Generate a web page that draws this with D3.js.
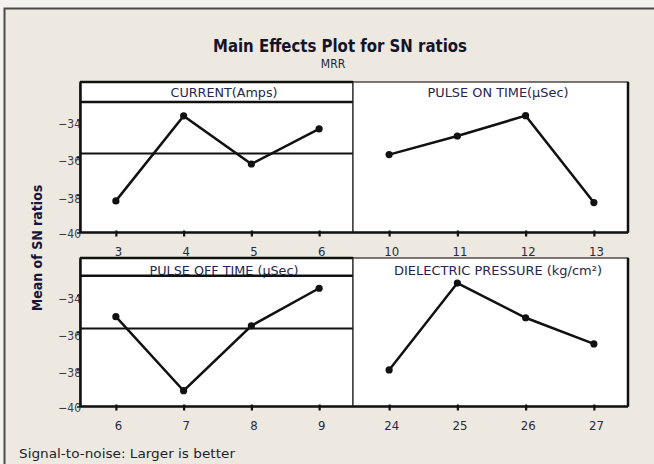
<!DOCTYPE html>
<html>
<head>
  <meta charset="utf-8">
  <script src="https://d3js.org/d3.v7.min.js"></script>
  <style>
    body { margin: 0; background: #f4f2ee; }
    text { font-family: 'DejaVu Sans Condensed', 'DejaVu Sans', sans-serif; }
  </style>
</head>
<body>
<script type="text/javascript">
  // SN ratio means per factor level
  var currentLevels = ["3", "4", "5", "6"];
  var currentSN = [-38.32, -33.80, -36.36, -34.49];

  var pulseOnLevels = ["10", "11", "12", "13"];
  var pulseOnSN = [-35.86, -34.87, -33.79, -38.41];

  var pulseOffLevels = ["6", "7", "8", "9"];
  var pulseOffSN = [-35.16, -39.15, -35.65, -33.63];

  var pressureLevels = ["24", "25", "26", "27"];
  var pressureSN = [-38.03, -33.35, -35.22, -36.63];

  var yTicks = [-40, -38, -36, -34];
  var yDomain = [-40, -32];

  var panels = [
    {name: "CURRENT(Amps)", levels: currentLevels, values: currentSN, col: 0, row: 0, tl: 107},
    {name: "PULSE ON TIME(\u00b5Sec)", levels: pulseOnLevels, values: pulseOnSN, col: 1, row: 0, tl: 141},
    {name: "PULSE OFF TIME (\u00b5Sec)", levels: pulseOffLevels, values: pulseOffSN, col: 0, row: 1, tl: 149},
    {name: "DIELECTRIC PRESSURE (kg/cm\u00b2)", levels: pressureLevels, values: pressureSN, col: 1, row: 1, tl: 208}
  ];

  var grandMean = d3.mean(currentSN.concat(pulseOnSN, pulseOffSN, pressureSN));

  /*
    layout
  */
  var colX = [80, 353, 628];
  var rows = [
    {top: 82, bottom: 232.5, strip: 20, labelY: 97},
    {top: 258, bottom: 406.5, strip: 17.7, labelY: 275}
  ];

  var svg = d3.select("body")
    .append("svg")
      .attr("width", 654)
      .attr("height", 464);

  // background + outer frame
  svg.append("rect")
    .attr("x", 5).attr("y", 9)
    .attr("width", 649).attr("height", 455)
    .attr("fill", "#ede9e1");
  svg.append("path")
    .attr("d", "M4.5,464V8.5H654")
    .attr("fill", "none")
    .attr("stroke", "#4a4a4a")
    .attr("stroke-width", 2);

  svg.append("text")
    .attr("x", 340).attr("y", 52)
    .attr("text-anchor", "middle")
    .attr("font-size", 18)
    .attr("font-weight", "bold")
    .attr("fill", "#14142a")
    .attr("textLength", 254)
    .attr("lengthAdjust", "spacingAndGlyphs")
    .text("Main Effects Plot for SN ratios");

  svg.append("text")
    .attr("x", 333).attr("y", 68)
    .attr("text-anchor", "middle")
    .attr("font-size", 12)
    .attr("fill", "#1e1e3a")
    .text("MRR");

  svg.append("text")
    .attr("transform", "translate(42,248) rotate(-90)")
    .attr("text-anchor", "middle")
    .attr("font-size", 14)
    .attr("font-weight", "bold")
    .attr("fill", "#16163a")
    .text("Mean of SN ratios");

  svg.append("text")
    .attr("x", 19).attr("y", 458)
    .attr("font-size", 13)
    .attr("fill", "#1e1e2e")
    .attr("textLength", 216)
    .attr("lengthAdjust", "spacingAndGlyphs")
    .text("Signal-to-noise: Larger is better");

  panels.forEach(function(p) {
    var x0 = colX[p.col], x1 = colX[p.col + 1];
    var r = rows[p.row];

    var x = d3.scalePoint()
      .domain(p.levels)
      .range([x0 + 2, x1])
      .padding(0.5);
    var y = d3.scaleLinear()
      .domain(yDomain)
      .range([r.bottom, r.top]);

    var g = svg.append("g");

    g.append("rect")
      .attr("x", x0).attr("y", r.top)
      .attr("width", x1 - x0).attr("height", r.bottom - r.top)
      .attr("fill", "#fff")
      .attr("stroke", "#222")
      .attr("stroke-width", 1.2);

    g.append("text")
      .attr("x", (x0 + x1) / 2 + 7.5)
      .attr("y", r.labelY)
      .attr("text-anchor", "middle")
      .attr("font-size", 12)
      .attr("fill", "#26264e")
      .attr("textLength", p.tl)
      .attr("lengthAdjust", "spacingAndGlyphs")
      .text(p.name);

    // strip line and mean line only show in the left column
    if (p.col == 0) {
      g.append("line")
        .attr("x1", x0).attr("x2", x1)
        .attr("y1", r.top + r.strip).attr("y2", r.top + r.strip)
        .attr("stroke", "#111").attr("stroke-width", 2.5);
      g.append("line")
        .attr("x1", x0).attr("x2", x1)
        .attr("y1", y(grandMean)).attr("y2", y(grandMean))
        .attr("stroke", "#111").attr("stroke-width", 2);
      g.append("line")
        .attr("x1", x0).attr("x2", x1)
        .attr("y1", r.top).attr("y2", r.top)
        .attr("stroke", "#111").attr("stroke-width", 2.5);
    } else {
      g.append("line")
        .attr("x1", x1).attr("x2", x1)
        .attr("y1", r.top).attr("y2", r.bottom)
        .attr("stroke", "#111").attr("stroke-width", 2.5);
    }

    var line = d3.line()
      .x(function(d, i) { return x(p.levels[i]); })
      .y(function(d) { return y(d); });

    g.append("path")
      .datum(p.values)
      .attr("d", line)
      .attr("fill", "none")
      .attr("stroke", "#111")
      .attr("stroke-width", 2.5);

    g.selectAll("circle")
      .data(p.values)
      .enter().append("circle")
        .attr("cx", function(d, i) { return x(p.levels[i]); })
        .attr("cy", function(d) { return y(d); })
        .attr("r", 3.6)
        .attr("fill", "#111");

    var xAxis = g.append("g")
      .attr("transform", "translate(0," + r.bottom + ")")
      .call(d3.axisBottom(x).tickSizeInner(4).tickSizeOuter(0).tickPadding(10));
    xAxis.select(".domain")
      .attr("d", "M" + x0 + ",0H" + x1)
      .attr("stroke", "#111").attr("stroke-width", 2.5);
    xAxis.selectAll(".tick line")
      .attr("y1", -2)
      .attr("stroke", "#111").attr("stroke-width", 2.2);
    xAxis.selectAll(".tick text")
      .attr("dx", 2)
      .attr("font-size", 13)
      .attr("fill", "#2a2a3a");

    if (p.col == 0) {
      var yAxis = g.append("g")
        .attr("transform", "translate(" + x0 + ",0)")
        .call(d3.axisLeft(y).tickValues(yTicks).tickSizeInner(3).tickSizeOuter(0).tickPadding(-4));
      yAxis.select(".domain")
        .attr("stroke", "#111").attr("stroke-width", 2.5)
        .raise();
      yAxis.selectAll(".tick line")
        .attr("stroke", "#111").attr("stroke-width", 1.5);
      yAxis.selectAll(".tick text")
        .attr("dy", "0.62em")
        .attr("font-size", 12)
        .attr("fill", "#3a3a44");
      yAxis.selectAll(".tick").filter(function(d) { return d == -40; })
        .select("text").attr("dy", "0.4em");
    }
  });
</script>
</body>
</html>
